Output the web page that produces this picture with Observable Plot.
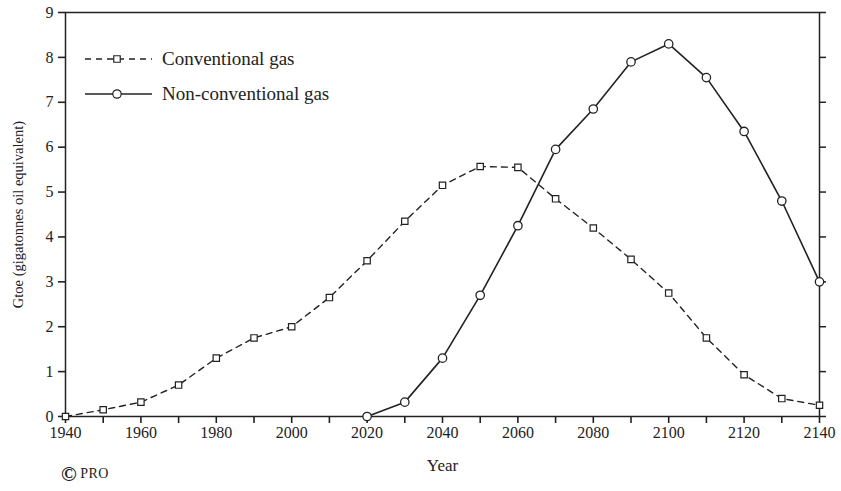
<!DOCTYPE html>
<html>
<head>
<meta charset="utf-8">
<script src="https://cdn.jsdelivr.net/npm/d3@7"></script>
<script src="https://cdn.jsdelivr.net/npm/@observablehq/plot@0.6"></script>
<style>
  body { margin: 0; background: #fff; }
  #wrap { position: relative; width: 841px; height: 491px; font-family: "Liberation Serif", "Times New Roman", serif; color: #222; }
  #legend { position: absolute; left: 0; top: 0; }
  #credit { position: absolute; left: 61px; top: 462px; font-size: 14px; letter-spacing: 0.5px; }
  #credit span.c { font-size: 21px; vertical-align: -3px; font-weight: bold; margin-right: 3px; }
</style>
</head>
<body>
<div id="wrap">
  <div id="chart"></div>
  <svg id="legend" width="340" height="110"></svg>
  <div id="credit"><span class="c">©</span>PRO</div>
</div>
<script>
// Gas production projections, gigatonnes of oil equivalent per year
const years = [1940, 1950, 1960, 1970, 1980, 1990, 2000, 2010, 2020, 2030, 2040,
               2050, 2060, 2070, 2080, 2090, 2100, 2110, 2120, 2130, 2140];
const conventional = [0, 0.15, 0.32, 0.7, 1.3, 1.75, 2.0, 2.65, 3.47, 4.35, 5.15,
                      5.57, 5.55, 4.85, 4.2, 3.5, 2.75, 1.75, 0.93, 0.4, 0.25];
const nonConventionalYears = [2020, 2030, 2040, 2050, 2060, 2070, 2080, 2090, 2100, 2110, 2120, 2130, 2140];
const nonConventional = [0, 0.32, 1.3, 2.7, 4.25, 5.95, 6.85, 7.9, 8.3, 7.55, 6.35, 4.8, 3.0];
const seriesNames = ["Conventional gas", "Non-conventional gas"];
const yTicks = [0, 1, 2, 3, 4, 5, 6, 7, 8, 9];
const xTicks = d3.range(1940, 2141, 10);

const conv = years.map((x, i) => ({year: x, value: conventional[i]}));
const nonconv = nonConventionalYears.map((x, i) => ({year: x, value: nonConventional[i]}));

const ink = "#222";
const serif = "Liberation Serif, Times New Roman, serif";

const chart = Plot.plot({
  width: 841,
  height: 491,
  marginLeft: 65,
  marginRight: 22,
  marginTop: 12,
  marginBottom: 75,
  style: {fontFamily: serif, fontSize: "16px", color: ink, background: "white"},
  x: {domain: [1940, 2140]},
  y: {domain: [0, 9]},
  marks: [
    Plot.frame({stroke: ink, strokeWidth: 1.5}),
    Plot.axisX({
      ticks: xTicks,
      tickSize: 7,
      tickPadding: 3,
      tickFormat: d => d % 20 === 0 ? String(d) : "",
      label: null,
      fontSize: 16,
      strokeWidth: 1.6
    }),
    Plot.axisY({
      ticks: yTicks,
      tickSize: 7,
      tickPadding: 5,
      label: null,
      fontSize: 16,
      strokeWidth: 1.6
    }),
    Plot.axisY({
      anchor: "right",
      ticks: yTicks,
      tickSize: 6,
      tickFormat: () => "",
      label: null,
      strokeWidth: 1.5
    }),
    // axis titles
    Plot.text(["Year"], {frameAnchor: "bottom", dy: 54, fontSize: 17, fill: ink}),
    Plot.text(["Gtoe (gigatonnes oil equivalent)"], {frameAnchor: "left", textAnchor: "middle", dx: -47, rotate: -90, fontSize: 14.5, fill: ink}),
    Plot.line(conv, {x: "year", y: "value", stroke: ink, strokeWidth: 1.4, strokeDasharray: "6,5"}),
    Plot.line(nonconv, {x: "year", y: "value", stroke: ink, strokeWidth: 1.6}),
    Plot.dot(conv, {x: "year", y: "value", symbol: "square", r: 3.6, stroke: ink, strokeWidth: 1.2, fill: "white"}),
    Plot.dot(nonconv, {x: "year", y: "value", symbol: "circle", r: 4.2, stroke: ink, strokeWidth: 1.3, fill: "white"})
  ]
});
document.getElementById("chart").append(chart);

// Legend keys: dashed line with square, solid line with circle
const legend = d3.select("#legend");
const rows = [
  {name: seriesNames[0], dash: "6,5", symbol: d3.symbolSquare, size: 42},
  {name: seriesNames[1], dash: null, symbol: d3.symbolCircle, size: 55}
];
rows.forEach((r, i) => {
  const cy = 59 + i * 35;
  const g = legend.append("g");
  g.append("line").attr("x1", 85).attr("x2", 152).attr("y1", cy).attr("y2", cy)
    .attr("stroke", ink).attr("stroke-width", r.dash ? 1.4 : 1.6)
    .attr("stroke-dasharray", r.dash);
  g.append("path").attr("d", d3.symbol(r.symbol, r.size)())
    .attr("transform", `translate(117,${cy})`)
    .attr("fill", "white").attr("stroke", ink).attr("stroke-width", 1.2);
  g.append("text").attr("x", 162).attr("y", cy).attr("dy", "0.32em")
    .attr("font-family", serif)
    .attr("font-size", 19).attr("fill", ink).text(r.name);
});
</script>
</body>
</html>
